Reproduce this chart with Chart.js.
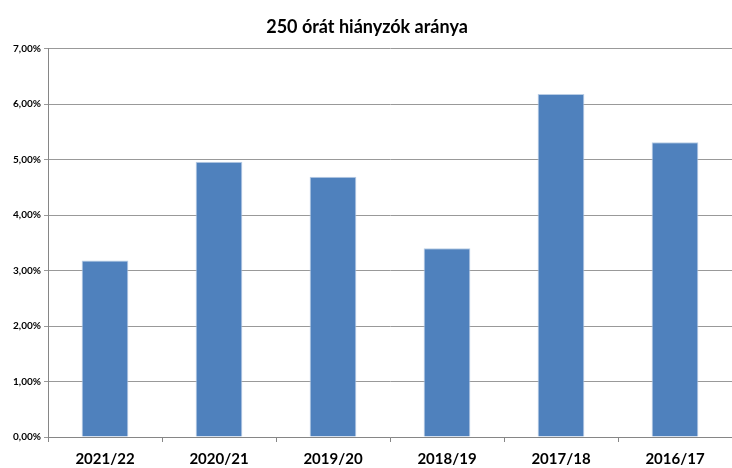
<!DOCTYPE html>
<html>
<head>
<meta charset="utf-8">
<script src="https://cdn.jsdelivr.net/npm/chart.js@4.4.1/dist/chart.umd.min.js"></script>
<style>
  html, body { margin: 0; padding: 0; background: #fff; }
  #wrap { width: 732px; height: 468px; }
</style>
</head>
<body>
<div id="wrap"><canvas id="myChartHianyzok" width="732" height="468"></canvas></div>
<script>
// adatok
var tanevek = ["2021/22", "2020/21", "2019/20", "2018/19", "2017/18", "2016/17"];
var aranyok = [3.18, 4.96, 4.69, 3.40, 6.18, 5.31];
var cim = '250 órát hiányzók aránya';

var ctx = document.getElementById('myChartHianyzok').getContext('2d');
new Chart(ctx, {
    type: 'bar',
    data: {
        labels: tanevek,
        datasets: [{
            label: cim,
            data: aranyok,
            backgroundColor: '#4F81BD',
            borderColor: '#B9CDE5',
            borderWidth: 1,
            categoryPercentage: 1,
            barPercentage: 0.41
        }]
    },
    options: {
        responsive: false, // fix meret
        animation: false,
        layout: { padding: { left: 2, right: 0, top: 10, bottom: 0 } },
        plugins: {
            legend: { display: false },
            tooltip: { enabled: false },
            title: {
                display: true,
                text: cim,
                color: '#000',
                font: { family: 'Lato', size: 18, weight: 'bold' },
                padding: { top: 6, bottom: 11 }
            }
        },
        scales: {
            x: {
                afterFit: function (s) { s.height = 31; },
                grid: {
                    drawOnChartArea: false,
                    drawTicks: true,
                    tickLength: 5,
                    color: '#868686'
                },
                border: { color: '#868686', width: 1 },
                ticks: {
                    color: '#000',
                    padding: 8,
                    font: { family: 'Lato', size: 15, weight: 'bold' }
                }
            },
            y: {
                min: 0,
                max: 7,
                beginAtZero: true,
                afterFit: function (s) { s.width = 46; },
                grid: { color: '#999999', tickLength: 4 },
                border: { color: '#868686', width: 1 },
                ticks: {
                    stepSize: 1,
                    color: '#000',
                    padding: 3,
                    font: { family: 'Lato', size: 10, weight: 'bold' },
                    callback: function (v) { return v.toFixed(2).replace('.', ',') + '%'; }
                }
            }
        }
    }
});
</script>
</body>
</html>
